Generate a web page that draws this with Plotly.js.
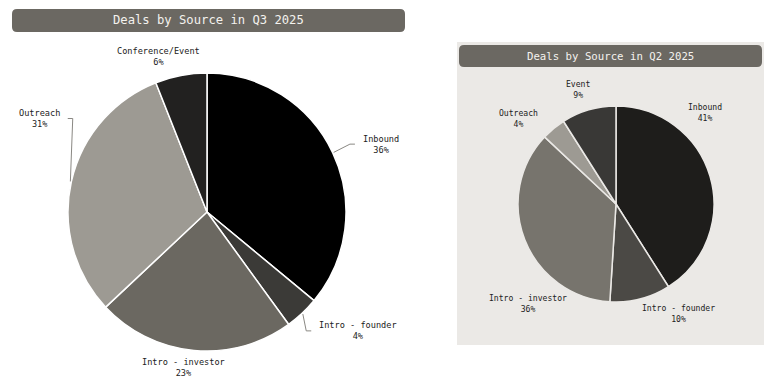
<!DOCTYPE html>
<html>
<head>
<meta charset="utf-8">
<script src="https://cdn.plot.ly/plotly-3.0.1.min.js"></script>
<style>html,body{margin:0;padding:0;background:#fff;}#chart{width:781px;height:391px;}</style>
</head>
<body>
<div id="chart"></div>
<script>
// ---- data ----
const q3Labels = ["Inbound", "Intro - founder", "Intro - investor", "Outreach", "Conference/Event"];
const q3Values = [36, 4, 23, 31, 6];
const q2Labels = ["Inbound", "Intro - founder", "Intro - investor", "Outreach", "Event"];
const q2Values = [41, 10, 36, 4, 9];
const q3Title = "Deals by Source in Q3 2025";
const q2Title = "Deals by Source in Q2 2025";

// ---- style ----
const W = 781, H = 391;
const q3Colors = ["#000000", "#3b3a37", "#6b6861", "#9d9a93", "#222120"];
const q2Colors = ["#1e1d1b", "#4b4945", "#77746d", "#9d9a93", "#393836"];
const MONO = "DejaVu Sans Mono, Liberation Mono, monospace";
const panelBg = "#ebe9e6";
const boxColor = "#6b6862";
// label layout tweaks (angle nudge in degrees, distance in radii) – mimics the
// overlap-avoiding label layout of the original
const q3LabelNudge = [3.9, -8.6, 3.2, 16.5, -6.7];
const q3LabelDist = [1.344, 1.383, 1.135, 1.383, 1.17];
const q2LabelNudge = [-29.6, -15.5, -26.9, -9.3, -2.3];
const q2LabelDist = [1.30, 1.289, 1.355, 1.327, 1.237];

// pie domains in pixels (left, top, right, bottom)
const q3Box = [68, 73, 346, 351];
const q2Box = [518, 106, 714, 302];
function dom(b) {
  return { x: [b[0] / W, b[2] / W], y: [1 - b[3] / H, 1 - b[1] / H] };
}
function geom(b) {
  return { cx: (b[0] + b[2]) / 2, cy: (b[1] + b[3]) / 2, r: Math.min(b[2] - b[0], b[3] - b[1]) / 2 };
}

const shapes = [];
const annotations = [];

// right panel
shapes.push({ type: "rect", xref: "paper", yref: "paper", x0: 457 / W, x1: 764 / W, y0: 1 - 345 / H, y1: 1 - 42 / H,
  fillcolor: panelBg, line: { width: 0 }, layer: "below" });

function roundBox(x0, y0, x1, y1, rad) {
  const px = v => (v / W).toFixed(5), py = v => (1 - v / H).toFixed(5);
  const p = `M ${px(x0 + rad)},${py(y0)} L ${px(x1 - rad)},${py(y0)} Q ${px(x1)},${py(y0)} ${px(x1)},${py(y0 + rad)} ` +
    `L ${px(x1)},${py(y1 - rad)} Q ${px(x1)},${py(y1)} ${px(x1 - rad)},${py(y1)} L ${px(x0 + rad)},${py(y1)} ` +
    `Q ${px(x0)},${py(y1)} ${px(x0)},${py(y1 - rad)} L ${px(x0)},${py(y0 + rad)} Q ${px(x0)},${py(y0)} ${px(x0 + rad)},${py(y0)} Z`;
  shapes.push({ type: "path", xref: "paper", yref: "paper", path: p, fillcolor: boxColor, line: { width: 0 } });
}
function titleText(txt, x, y, size) {
  annotations.push({ text: txt, xref: "paper", yref: "paper", x: x / W, y: 1 - y / H, xanchor: "center", yanchor: "middle",
    showarrow: false, font: { family: MONO, size: size, color: "#f4f2ee" } });
}
roundBox(12, 9, 405, 32, 5);
titleText(q3Title, 208.5, 20.5, 12.2);
roundBox(459, 45, 762, 67, 5);
titleText(q2Title, 610.5, 56, 10.7);

// outside labels computed from data
function addLabels(labels, values, box, nudge, dist, size, leaders) {
  const g = geom(box);
  const total = values.reduce((a, b) => a + b, 0);
  const charW = size * 0.602;
  let cum = 0;
  labels.forEach((lab, i) => {
    const mid = (cum + values[i] / 2) / total;
    cum += values[i];
    const thMid = 2 * Math.PI * mid;
    const th = thMid + nudge[i] * Math.PI / 180;
    const s = Math.sin(th), c = Math.cos(th);
    const lx = g.cx + g.r * dist[i] * s, ly = g.cy - g.r * dist[i] * c;
    const pct = Math.round(values[i] / total * 100);
    annotations.push({ text: lab + "<br>" + pct + "%", xref: "paper", yref: "paper", x: lx / W, y: 1 - ly / H,
      xanchor: "center", yanchor: "middle", showarrow: false, align: "center",
      font: { family: MONO, size: size, color: "#222222" } });
    const sm = Math.sin(thMid), cm = Math.cos(thMid);
    if (leaders && Math.abs(sm) > 0.5) {
      const half = lab.length * charW / 2;
      const side = lx > g.cx ? 1 : -1;
      const ax = g.cx + (g.r + 1) * sm, ay = g.cy - (g.r + 1) * cm;
      const ex = lx - side * (half + 8);
      const bx = ex - side * 5, by = ly;
      shapes.push({ type: "path", xref: "paper", yref: "paper",
        path: `M ${ax / W},${1 - ay / H} L ${bx / W},${1 - by / H} L ${ex / W},${1 - by / H}`,
        line: { color: "#8a8883", width: 1 } });
    }
  });
}
addLabels(q3Labels, q3Values, q3Box, q3LabelNudge, q3LabelDist, 8.6, true);
addLabels(q2Labels, q2Values, q2Box, q2LabelNudge, q2LabelDist, 8.1, false);

const traces = [
  { type: "pie", labels: q3Labels, values: q3Values, sort: false, direction: "clockwise", rotation: 0,
    domain: dom(q3Box), marker: { colors: q3Colors, line: { color: "#ffffff", width: 1.5 } },
    textinfo: "none", hoverinfo: "skip", showlegend: false },
  { type: "pie", labels: q2Labels, values: q2Values, sort: false, direction: "clockwise", rotation: 0,
    domain: dom(q2Box), marker: { colors: q2Colors, line: { color: panelBg, width: 1.5 } },
    textinfo: "none", hoverinfo: "skip", showlegend: false }
];

const layout = {
  width: W, height: H, margin: { l: 0, r: 0, t: 0, b: 0 },
  paper_bgcolor: "#ffffff", plot_bgcolor: "#ffffff",
  showlegend: false, shapes: shapes, annotations: annotations
};
Plotly.newPlot("chart", traces, layout, { displayModeBar: false, staticPlot: true });
</script>
</body>
</html>
